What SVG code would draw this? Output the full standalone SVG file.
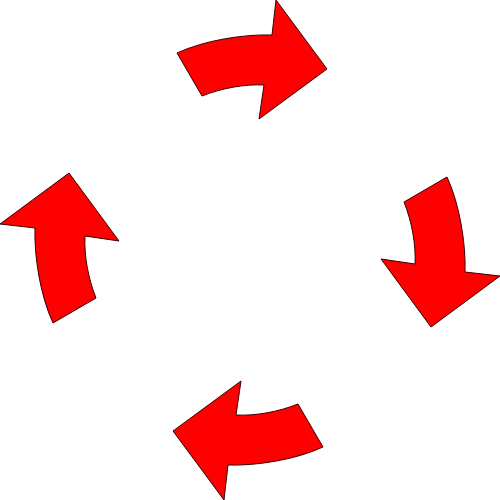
<svg xmlns="http://www.w3.org/2000/svg" xmlns:xlink="http://www.w3.org/1999/xlink" width="500" height="500" viewBox="0 0 500 500">
<style>
.arrow{fill:#ff0000;stroke:#3a0000;stroke-width:1;stroke-linejoin:miter}
</style>
<defs>
<path id="arrowShape" class="arrow" d="M177,53 C205,40 245,34 272,35 L276,0 L327,69 L259,119 L264,85 C245,84 222,88 202,96 Z"/>
</defs>
<rect width="500" height="500" fill="#ffffff"/>
<g id="arrow-top"><use xlink:href="#arrowShape" href="#arrowShape"/></g>
<g id="arrow-right"><use xlink:href="#arrowShape" href="#arrowShape" transform="rotate(90 250 250)"/></g>
<g id="arrow-bottom"><use xlink:href="#arrowShape" href="#arrowShape" transform="rotate(180 250 250)"/></g>
<g id="arrow-left"><use xlink:href="#arrowShape" href="#arrowShape" transform="rotate(270 250 250)"/></g>
</svg>
